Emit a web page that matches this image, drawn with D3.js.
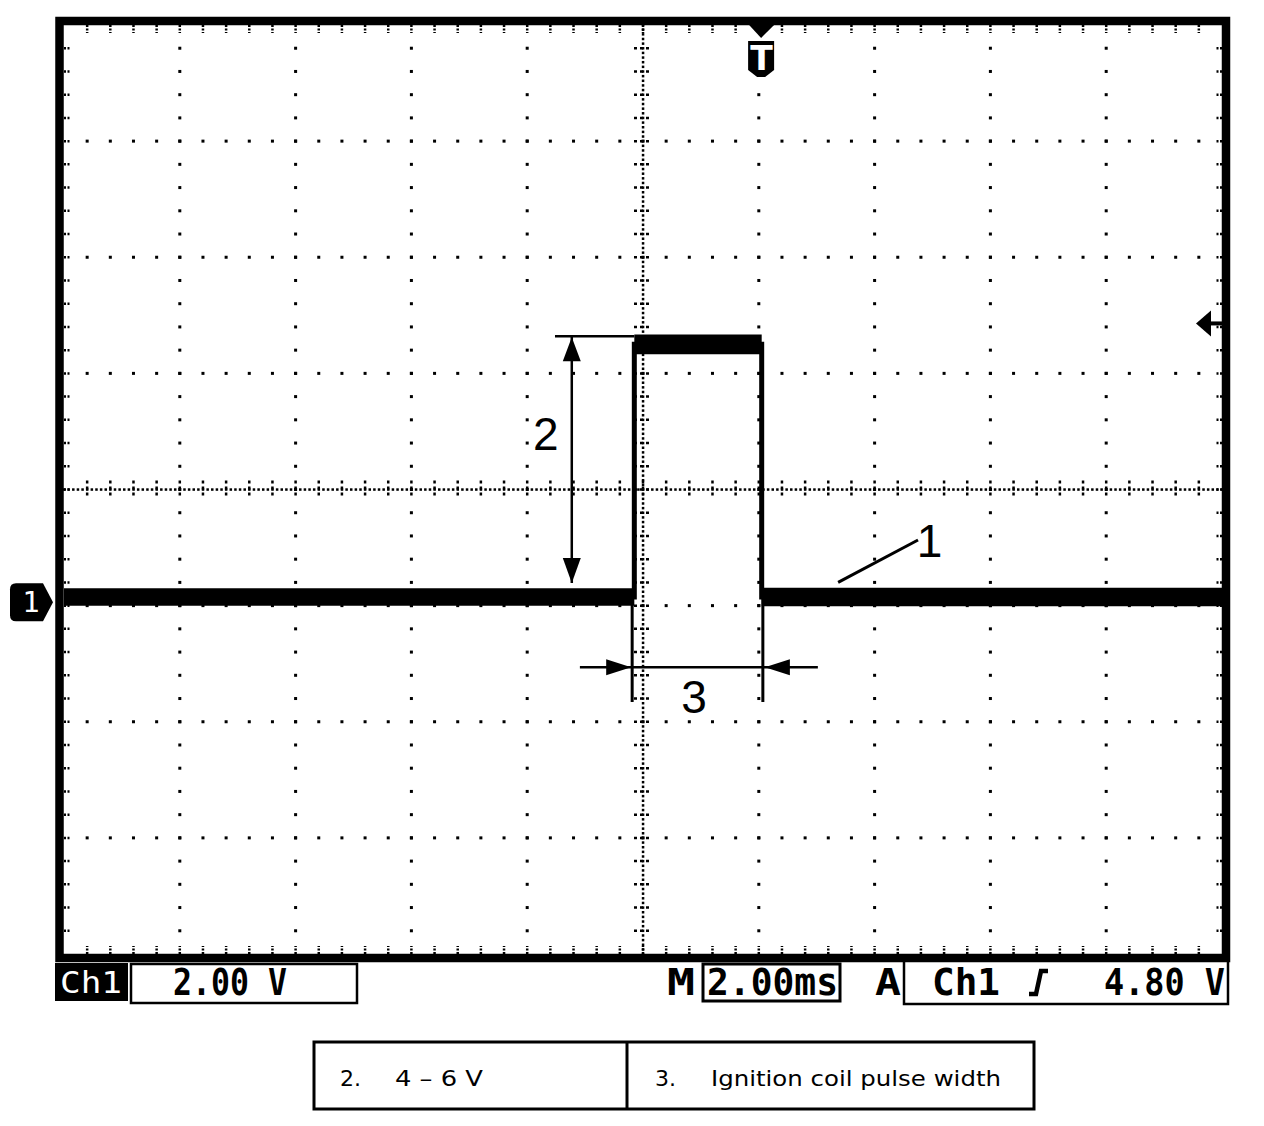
<!DOCTYPE html>
<html><head><meta charset="utf-8">
<script src="https://cdn.jsdelivr.net/npm/d3@7"></script>
<style>body{margin:0;background:#fff}svg{display:block}</style>
</head><body><svg id="c" width="1264" height="1126"></svg>
<script>
// ---------- data ----------
const voltsPerDiv = 2.0;          // Ch1 2.00 V
const msPerDiv = 2.0;             // M 2.00ms
const hDivs = 10, vDivs = 8;
const groundDiv = -0.97;          // Ch1 ground marker, divisions from centre
const triggerTime = 12.04;        // ms, "T" marker
const triggerLevel = 4.80;        // V
const traceTime = [0, 9.85, 9.85, 12.05, 12.05, 20];
const traceVolt = [0.09, 0.09, 4.44, 4.44, 0.09, 0.09];
const noiseHalf = [0.15, 0.15, 0.17, 0.17, 0.16, 0.16];
// annotation anchors (time ms, volts)
const dim2 = {t: 8.77, refFrom: 8.48, vTop: 4.58, vBot: 0.33, label: "2", lt: 8.32, lv: 2.9};
const dim3 = {v: -1.12, tFrom: 8.91, tTo: 13.02, tA: 9.83, tB: 12.07, extBottom: -1.72, label: "3", lt: 10.88, lv: -1.63};
const lead1 = {t0: 13.37, v0: 0.34, t1: 14.75, v1: 1.07, label: "1", lt: 14.95, lv: 1.05};
const statusLabels = {ch: "Ch1", vdiv: "2.00 V", m: "M", tdiv: "2.00ms", a: "A", trigSrc: "Ch1", trigLvl: "4.80 V"};
const tableCells = [["2.", "4 – 6 V"], ["3.", "Ignition coil pulse width"]];

// ---------- scales ----------
const svg = d3.select("#c");
const X0 = 64, X1 = 1222, Y0 = 25, Y1 = 954;
const x = d3.scaleLinear([0, hDivs * msPerDiv], [X0, X1]);
const vTop = (vDivs / 2 - groundDiv) * voltsPerDiv;
const vBot = (-vDivs / 2 - groundDiv) * voltsPerDiv;
const y = d3.scaleLinear([vBot, vTop], [Y1, Y0]);
const divX = d3.scaleLinear([0, hDivs], [X0, X1]);
const divY = d3.scaleLinear([-vDivs / 2, vDivs / 2], [Y1, Y0]);

const g = svg.append("g");

// ---------- graticule ----------
const grid = g.append("g").attr("fill", "#000");
const minorX = d3.range(0, hDivs + 1e-9, 0.2);
const minorY = d3.range(-vDivs / 2, vDivs / 2 + 1e-9, 0.2);
for (let k = 1; k < hDivs; k++) {
  if (k === hDivs / 2) continue;
  grid.selectAll(null).data(minorY.slice(1, -1)).join("rect")
    .attr("x", divX(k) - 1.5).attr("y", d => divY(d) - 1.5).attr("width", 3).attr("height", 3);
}
for (let k = -vDivs / 2 + 1; k < vDivs / 2; k++) {
  if (k === 0) continue;
  grid.selectAll(null).data(minorX.slice(1, -1)).join("rect")
    .attr("x", d => divX(d) - 1.5).attr("y", divY(k) - 1.5).attr("width", 3).attr("height", 3);
}
const fineX = d3.range(0, hDivs + 1e-9, 0.04);
const fineY = d3.range(-vDivs / 2, vDivs / 2 + 1e-9, 0.04);
grid.selectAll(null).data(fineX).join("rect")
  .attr("x", d => divX(d) - 1.2).attr("y", divY(0) - 1.2).attr("width", 2.5).attr("height", 2.5);
grid.selectAll(null).data(fineY).join("rect")
  .attr("x", divX(hDivs / 2) - 1.2).attr("y", d => divY(d) - 1.2).attr("width", 2.5).attr("height", 2.5);
g.append("g").attr("stroke", "#000").attr("stroke-width", 2.5).attr("stroke-dasharray", "3,3")
  .selectAll("line").data(minorX.slice(1, -1)).join("line")
  .attr("x1", d => divX(d)).attr("x2", d => divX(d))
  .attr("y1", divY(0) - 9).attr("y2", divY(0) + 9);
g.append("g").attr("stroke", "#000").attr("stroke-width", 2.5).attr("stroke-dasharray", "3,3")
  .selectAll("line").data(minorY.slice(1, -1)).join("line")
  .attr("y1", d => divY(d)).attr("y2", d => divY(d))
  .attr("x1", divX(hDivs / 2) - 9).attr("x2", divX(hDivs / 2) + 9);
const edge = g.append("g").attr("stroke", "#000").attr("stroke-width", 2.5).attr("stroke-dasharray", "2,1.5");
edge.selectAll(null).data(minorX.slice(1, -1)).join("line")
  .attr("x1", d => divX(d)).attr("x2", d => divX(d)).attr("y1", Y0).attr("y2", Y0 + 8);
edge.selectAll(null).data(minorX.slice(1, -1)).join("line")
  .attr("x1", d => divX(d)).attr("x2", d => divX(d)).attr("y1", Y1).attr("y2", Y1 - 8);
edge.selectAll(null).data(minorY.slice(1, -1)).join("line")
  .attr("y1", d => divY(d)).attr("y2", d => divY(d)).attr("x1", X0).attr("x2", X0 + 7);
edge.selectAll(null).data(minorY.slice(1, -1)).join("line")
  .attr("y1", d => divY(d)).attr("y2", d => divY(d)).attr("x1", X1).attr("x2", X1 - 7);

g.append("rect").attr("x", X0 - 4.5).attr("y", Y0 - 4).attr("width", X1 - X0 + 8.5).attr("height", Y1 - Y0 + 8)
  .attr("fill", "none").attr("stroke", "#000").attr("stroke-width", 8.5);

// ---------- trace ----------
const pts = traceTime.map((t, i) => ({t, v: traceVolt[i], n: noiseHalf[i]}));
const bands = [];
for (let i = 0; i < pts.length - 1; i++) if (pts[i].v === pts[i + 1].v) bands.push([pts[i], pts[i + 1]]);
const area = d3.area().x(d => x(d.t)).y0(d => y(d.v - d.n)).y1(d => y(d.v + d.n));
g.append("g").selectAll("path").data(bands).join("path").attr("d", area).attr("fill", "#000");
g.append("path").datum(pts).attr("d", d3.line().x(d => x(d.t)).y(d => y(d.v)))
  .attr("fill", "none").attr("stroke", "#000").attr("stroke-width", 5);

// ---------- annotations ----------
const ann = g.append("g").attr("stroke", "#000").attr("stroke-width", 2.5).attr("fill", "none");
ann.append("line").attr("x1", x(dim2.refFrom)).attr("x2", x(traceTime[2])).attr("y1", y(dim2.vTop)).attr("y2", y(dim2.vTop));
ann.append("line").attr("x1", x(dim2.t)).attr("x2", x(dim2.t)).attr("y1", y(dim2.vTop)).attr("y2", y(dim2.vBot));
const ah = 25, aw = 9;
g.append("path").attr("fill", "#000")
  .attr("d", `M${x(dim2.t)},${y(dim2.vTop) + 1} L${x(dim2.t) - aw},${y(dim2.vTop) + ah} L${x(dim2.t) + aw},${y(dim2.vTop) + ah}Z`);
g.append("path").attr("fill", "#000")
  .attr("d", `M${x(dim2.t)},${y(dim2.vBot)} L${x(dim2.t) - aw},${y(dim2.vBot) - ah} L${x(dim2.t) + aw},${y(dim2.vBot) - ah}Z`);
ann.append("line").attr("x1", x(dim3.tFrom)).attr("x2", x(dim3.tTo)).attr("y1", y(dim3.v)).attr("y2", y(dim3.v));
ann.append("line").attr("x1", x(dim3.tA) - 1).attr("x2", x(dim3.tA) - 1).attr("y1", y(traceVolt[0])).attr("y2", y(dim3.extBottom)).attr("stroke-width", 3);
ann.append("line").attr("x1", x(dim3.tB)).attr("x2", x(dim3.tB)).attr("y1", y(traceVolt[0])).attr("y2", y(dim3.extBottom)).attr("stroke-width", 3);
g.append("path").attr("fill", "#000")
  .attr("d", `M${x(dim3.tA) - 2},${y(dim3.v)} L${x(dim3.tA) - 27},${y(dim3.v) - 8} L${x(dim3.tA) - 27},${y(dim3.v) + 8}Z`);
g.append("path").attr("fill", "#000")
  .attr("d", `M${x(dim3.tB) + 2},${y(dim3.v)} L${x(dim3.tB) + 27},${y(dim3.v) - 8} L${x(dim3.tB) + 27},${y(dim3.v) + 8}Z`);
ann.append("line").attr("x1", x(lead1.t0)).attr("y1", y(lead1.v0)).attr("x2", x(lead1.t1)).attr("y2", y(lead1.v1)).attr("stroke-width", 3);

const lab = g.append("g").attr("font-family", "'Liberation Sans', Arial, sans-serif").attr("font-size", 46)
  .attr("text-anchor", "middle").attr("dominant-baseline", "central").attr("fill", "#000");
lab.append("text").attr("x", x(dim2.lt)).attr("y", y(dim2.lv)).text(dim2.label);
lab.append("text").attr("x", x(dim3.lt)).attr("y", y(dim3.lv)).text(dim3.label);
lab.append("text").attr("x", x(lead1.lt)).attr("y", y(lead1.lv)).text(lead1.label);

// ---------- markers ----------
const gy = divY(groundDiv);
g.append("path").attr("fill", "#000")
  .attr("d", `M10,${gy - 13} Q10,${gy - 19} 16,${gy - 19} L43,${gy - 19} L53,${gy} L43,${gy + 19} L16,${gy + 19} Q10,${gy + 19} 10,${gy + 13}Z`);
g.append("text").attr("x", 31).attr("y", gy + 10).attr("text-anchor", "middle")
  .attr("font-family", "'DejaVu Sans Mono', monospace").attr("font-size", 29).attr("fill", "#fff").text(statusLabels.ch.slice(2));
const tx = x(triggerTime);
g.append("path").attr("fill", "#000").attr("d", `M${tx - 12},${Y0} L${tx + 13},${Y0} L${tx},${Y0 + 13}Z`);
g.append("path").attr("fill", "#000")
  .attr("d", `M${tx - 13},${Y0 + 16} L${tx + 13},${Y0 + 16} L${tx + 13},${Y0 + 45} L${tx + 4},${Y0 + 52} L${tx - 4},${Y0 + 52} L${tx - 13},${Y0 + 45}Z`);
g.append("text").attr("x", tx + 0.5).attr("y", Y0 + 45).attr("text-anchor", "middle")
  .attr("font-family", "'DejaVu Sans', sans-serif").attr("font-weight", "bold").attr("font-size", 33).attr("fill", "#fff").text("T");
const ty = y(triggerLevel);
g.append("path").attr("fill", "#000").attr("d", `M${X1 - 26},${ty} L${X1 - 11},${ty - 13} L${X1 - 11},${ty + 13}Z`);
g.append("rect").attr("x", X1 - 12).attr("y", ty - 2).attr("width", 12).attr("height", 4).attr("fill", "#000");

// ---------- status bar ----------
const sb = svg.append("g");
const mono = "'DejaVu Sans Mono', monospace";
sb.append("rect").attr("x", 55).attr("y", 963).attr("width", 73).attr("height", 38).attr("fill", "#000");
sb.append("text").attr("x", 60).attr("y", 993).attr("font-family", mono).attr("font-size", 30).attr("fill", "#fff")
  .attr("textLength", 62).attr("lengthAdjust", "spacingAndGlyphs").text(statusLabels.ch);
sb.append("rect").attr("x", 131).attr("y", 964).attr("width", 226).attr("height", 39).attr("fill", "none").attr("stroke", "#000").attr("stroke-width", 2.5);
const bt = (tx_, txt, len) => sb.append("text").attr("x", tx_).attr("y", 995).attr("font-family", mono).attr("font-weight", "bold")
  .attr("font-size", 38).attr("fill", "#000").attr("textLength", len).attr("lengthAdjust", "spacingAndGlyphs").text(txt);
bt(173, statusLabels.vdiv, 114);
bt(667, statusLabels.m, 28);
sb.append("rect").attr("x", 703).attr("y", 964).attr("width", 137).attr("height", 37).attr("fill", "none").attr("stroke", "#000").attr("stroke-width", 3);
bt(707, statusLabels.tdiv, 131);
bt(875, statusLabels.a, 26);
sb.append("path").attr("d", "M904,962 L904,1004 L1228,1004 L1228,962").attr("fill", "none").attr("stroke", "#000").attr("stroke-width", 2.5);
bt(932, statusLabels.trigSrc, 68);
sb.append("path").attr("d", "M1029,994 L1036,994 L1041,971 L1048,971").attr("fill", "none").attr("stroke", "#000").attr("stroke-width", 4.5);
bt(1104, statusLabels.trigLvl, 121);

// ---------- legend table ----------
const tb = svg.append("g");
tb.append("rect").attr("x", 314).attr("y", 1042).attr("width", 720).attr("height", 67).attr("fill", "none").attr("stroke", "#000").attr("stroke-width", 3);
tb.append("line").attr("x1", 627).attr("x2", 627).attr("y1", 1042).attr("y2", 1109).attr("stroke", "#000").attr("stroke-width", 3);
const cellX = [[340, 395], [655, 711]];
const cellLen = [[null, 88], [null, 290]];
tableCells.forEach((row, i) => row.forEach((txt, j) => {
  const t = tb.append("text").attr("x", cellX[i][j]).attr("y", 1086).attr("font-family", "'DejaVu Sans', Verdana, sans-serif")
    .attr("font-size", 22).attr("fill", "#000").text(txt);
  if (cellLen[i][j]) t.attr("textLength", cellLen[i][j]).attr("lengthAdjust", "spacingAndGlyphs");
}));
</script></body></html>
